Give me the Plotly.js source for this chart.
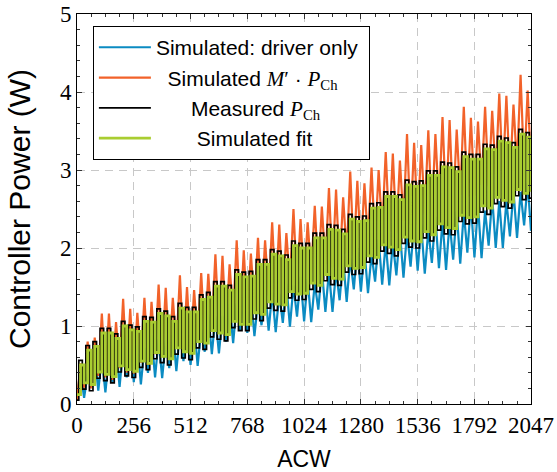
<!DOCTYPE html>
<html>
<head>
<meta charset="utf-8">
<script src="https://cdn.plot.ly/plotly-3.0.1.min.js"></script>
<style>html,body{margin:0;padding:0;background:#fff;}#chart{width:557px;height:472px;}</style>
</head>
<body>
<div id="chart"></div>
<script>
// ACW sample codes
const acw = [0,16,32,48,64,80,96,112,
128,144,160,176,192,208,224,240,
256,272,288,304,320,336,352,368,
384,400,416,432,448,464,480,496,
512,528,544,560,576,592,608,624,
640,656,672,688,704,720,736,752,
768,784,800,816,832,848,864,880,
896,912,928,944,960,976,992,1008,
1024,1040,1056,1072,1088,1104,1120,1136,
1152,1168,1184,1200,1216,1232,1248,1264,
1280,1296,1312,1328,1344,1360,1376,1392,
1408,1424,1440,1456,1472,1488,1504,1520,
1536,1552,1568,1584,1600,1616,1632,1648,
1664,1680,1696,1712,1728,1744,1760,1776,
1792,1808,1824,1840,1856,1872,1888,1904,
1920,1936,1952,1968,1984,2000,2016,2032,
2047];

// Simulated: driver only (W)
const simDriver = [0.11,0.42,0.08,0.39,0.22,0.61,0.17,0.60,
0.15,0.61,0.27,0.74,0.22,0.72,0.34,0.83,
0.28,0.79,0.25,0.72,0.40,0.88,0.34,0.83,
0.33,0.81,0.46,0.94,0.42,0.92,0.55,1.03,
0.50,1.01,0.49,0.96,0.67,1.15,0.64,1.12,
0.65,1.13,0.80,1.28,0.78,1.29,0.94,1.42,
0.91,1.39,0.87,1.32,1.01,1.48,0.94,1.43,
0.92,1.41,1.04,1.54,0.99,1.52,1.12,1.63,
1.06,1.60,1.05,1.55,1.21,1.73,1.18,1.70,
1.18,1.71,1.33,1.86,1.31,1.87,1.47,2.00,
1.44,1.98,1.42,1.92,1.57,2.11,1.53,2.07,
1.52,2.07,1.65,2.21,1.62,2.20,1.76,2.32,
1.71,2.30,1.67,2.23,1.81,2.40,1.74,2.35,
1.72,2.34,1.85,2.47,1.80,2.46,1.94,2.57,
1.88,2.55,1.87,2.48,2.03,2.65,2.00,2.60,
2.00,2.60,2.15,2.73,2.13,2.72,2.29,2.83,
2.22];

// Simulated M'·P_Ch (W)
const simScaled = [0.05,0.52,0.21,0.80,0.20,0.85,0.36,1.16,
0.34,1.16,0.31,1.05,0.46,1.35,0.40,1.22,
0.39,1.17,0.53,1.36,0.50,1.31,0.64,1.53,
0.60,1.49,0.57,1.36,0.72,1.65,0.67,1.50,
0.66,1.46,0.82,1.68,0.81,1.67,0.97,1.92,
0.95,1.90,0.94,1.79,1.11,2.10,1.07,1.97,
1.08,1.93,1.24,2.13,1.23,2.10,1.39,2.33,
1.37,2.30,1.37,2.19,1.55,2.50,1.52,2.37,
1.54,2.33,1.68,2.54,1.65,2.53,1.79,2.77,
1.75,2.75,1.75,2.65,1.93,2.98,1.90,2.86,
1.92,2.83,2.08,3.03,2.07,3.00,2.23,3.23,
2.21,3.21,2.19,3.12,2.35,3.46,2.30,3.35,
2.30,3.32,2.44,3.51,2.40,3.46,2.55,3.68,
2.50,3.64,2.50,3.52,2.68,3.81,2.65,3.67,
2.67,3.62,2.81,3.81,2.79,3.76,2.94,3.98,
2.90,3.95,2.88,3.84,3.05,4.22,3.01,4.02,
3.03];

// Measured P_Ch (W)
const measured = [0.05,0.56,0.19,0.75,0.17,0.80,0.33,0.97,
0.30,0.97,0.27,0.90,0.41,1.06,0.36,1.01,
0.34,0.99,0.47,1.12,0.44,1.11,0.58,1.22,
0.53,1.19,0.50,1.12,0.64,1.29,0.59,1.24,
0.57,1.24,0.72,1.40,0.70,1.43,0.86,1.57,
0.83,1.57,0.81,1.52,0.98,1.72,0.94,1.69,
0.94,1.70,1.09,1.85,1.07,1.85,1.23,1.98,
1.20,1.96,1.19,1.91,1.36,2.09,1.33,2.06,
1.34,2.06,1.47,2.19,1.44,2.19,1.58,2.30,
1.53,2.29,1.52,2.24,1.69,2.43,1.66,2.40,
1.67,2.41,1.82,2.57,1.80,2.58,1.96,2.72,
1.93,2.72,1.90,2.68,2.06,2.87,2.01,2.85,
2.00,2.86,2.13,2.99,2.09,2.99,2.23,3.10,
2.18,3.09,2.17,3.04,2.34,3.23,2.31,3.20,
2.32,3.20,2.46,3.33,2.43,3.32,2.57,3.43,
2.53,3.41,2.51,3.35,2.67,3.52,2.62,3.48,
2.64];

// Simulated fit (W)
const simFit = [0.12,0.50,0.27,0.69,0.25,0.74,0.41,0.91,
0.38,0.91,0.35,0.84,0.49,1.00,0.44,0.95,
0.42,0.93,0.55,1.06,0.52,1.05,0.66,1.16,
0.61,1.13,0.58,1.06,0.72,1.23,0.67,1.18,
0.65,1.18,0.80,1.34,0.78,1.37,0.94,1.51,
0.91,1.51,0.89,1.46,1.06,1.66,1.02,1.63,
1.02,1.64,1.17,1.79,1.15,1.79,1.31,1.92,
1.28,1.90,1.27,1.85,1.44,2.03,1.41,2.00,
1.42,2.00,1.55,2.13,1.52,2.13,1.66,2.24,
1.61,2.23,1.60,2.18,1.77,2.37,1.74,2.34,
1.75,2.35,1.90,2.51,1.88,2.52,2.04,2.66,
2.01,2.66,1.98,2.62,2.14,2.81,2.09,2.79,
2.08,2.80,2.21,2.93,2.17,2.93,2.31,3.04,
2.26,3.03,2.25,2.98,2.42,3.17,2.39,3.14,
2.40,3.14,2.54,3.27,2.51,3.26,2.65,3.37,
2.61,3.35,2.59,3.29,2.75,3.46,2.70,3.42,
2.72];

const xTickVals = [0,256,512,768,1024,1280,1536,1792,2047];
const xTickText = ['0','256','512','768','1024','1280','1536','1792','2047'];
const yTickVals = [0,1,2,3,4,5];

const NB = '\u00a0';
const seriesNames = [
  'Simulated: driver only' + NB,
  NB + NB + 'Simulated <span style="font-family:\'Liberation Serif\'"><i>M</i>\u2032</span> \u00b7 <span style="font-family:\'Liberation Serif\'"><i>P</i><sub>Ch</sub></span>',
  NB.repeat(6) + 'Measured <span style="font-family:\'Liberation Serif\'"><i>P</i><sub>Ch</sub></span>',
  NB.repeat(7) + 'Simulated fit'
];
const seriesColors = ['#0b8bc2', '#f2622a', '#000000', '#a9cd31'];

const traces = [
  {x: acw, y: simDriver, name: seriesNames[0], type: 'scatter', mode: 'lines',
   line: {color: seriesColors[0], width: 2.2}},
  {x: acw, y: simScaled, name: seriesNames[1], type: 'scatter', mode: 'lines',
   line: {color: seriesColors[1], width: 2.2}},
  {x: acw, y: measured, name: seriesNames[2], type: 'scatter', mode: 'lines',
   line: {color: seriesColors[2], width: 1.7, shape: 'hvh'}},
  {x: acw, y: simFit, name: seriesNames[3], type: 'scatter', mode: 'lines',
   line: {color: seriesColors[3], width: 2.8, shape: 'hv'}}
];

const axisCommon = {
  showline: true, linecolor: '#000', linewidth: 1, mirror: 'allticks',
  ticks: 'inside', ticklen: 5, tickwidth: 1, tickcolor: '#333',
  showgrid: true, gridcolor: '#c8c8c8', gridwidth: 1, griddash: '8px,6px',
  zeroline: false,
  tickfont: {family: 'Liberation Serif, serif', size: 23, color: '#000'}
};

const layout = {
  width: 557, height: 472,
  margin: {l: 77, r: 26, t: 14, b: 68, pad: 0},
  paper_bgcolor: '#fff', plot_bgcolor: '#fff',
  showlegend: true,
  xaxis: Object.assign({}, axisCommon, {
    range: [0, 2047], tickmode: 'array', tickvals: xTickVals, ticktext: xTickText,
    minor: {tickmode: 'linear', tick0: 0, dtick: 64, ticks: 'inside', ticklen: 3, tickcolor: '#333', showgrid: false},
    title: {text: 'ACW' + NB.repeat(9), font: {family: 'Liberation Sans, Arial, sans-serif', size: 23, color: '#000'}, standoff: 14}
  }),
  yaxis: Object.assign({}, axisCommon, {
    range: [0, 5], tickmode: 'array', tickvals: yTickVals,
    minor: {tickmode: 'linear', tick0: 0, dtick: 0.2, ticks: 'inside', ticklen: 3, tickcolor: '#333', showgrid: false},
    title: {text: 'Controller Power (W)', font: {family: 'Liberation Sans, Arial, sans-serif', size: 30, color: '#000'}, standoff: 20}
  }),
  legend: {
    x: 0.035, y: 0.969, xanchor: 'left', yanchor: 'top',
    bgcolor: '#fff', bordercolor: '#000', borderwidth: 1,
    font: {family: 'Liberation Sans, Arial, sans-serif', size: 21, color: '#000'},
    itemwidth: 52, tracegroupgap: 0
  }
};

Plotly.newPlot('chart', traces, layout, {displayModeBar: false, staticPlot: true});
</script>
</body>
</html>
